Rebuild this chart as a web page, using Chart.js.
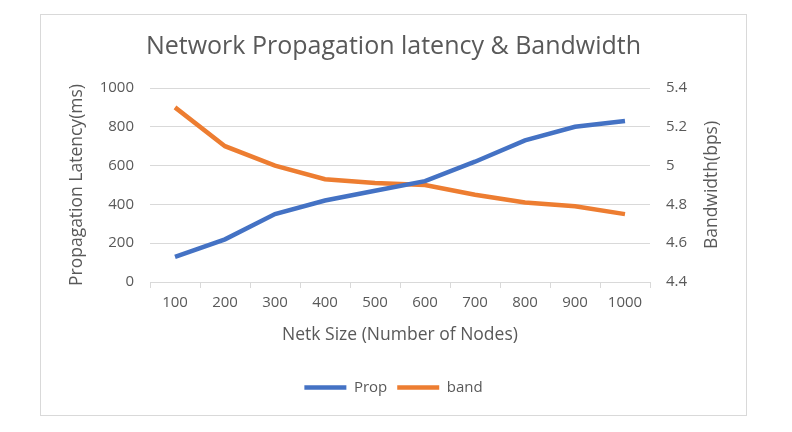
<!DOCTYPE html>
<html>
<head>
    <title>Network Propagation latency & Bandwidth</title>
    <script src="https://cdn.jsdelivr.net/npm/chart.js"></script>
    <style>
        body {
            margin: 0;
            background: white;
            font-family: "Open Sans", sans-serif;
        }

        /* Chart frame */
        .frame {
            position: absolute;
            left: 40px;
            top: 14px;
            width: 705px;
            height: 400px;
            border: 1px solid #d9d9d9;
        }
    </style>
</head>
<body>
    <div class="frame">
        <canvas id="netChart" width="705" height="400"></canvas>
    </div>

    <script>
        // Data
        const nodeCounts = ['100', '200', '300', '400', '500', '600', '700', '800', '900', '1000'];
        const propLatency = [130, 220, 350, 420, 470, 520, 620, 730, 800, 830];
        const bandwidth = [5.3, 5.1, 5.0, 4.93, 4.91, 4.9, 4.85, 4.81, 4.79, 4.75];

        const textColor = '#595959';
        const gridColor = '#d9d9d9';
        const fontFamily = '"Open Sans", sans-serif';

        // Right axis title reads bottom-to-top, so draw it ourselves
        const rightTitle = {
            id: 'rightTitle',
            afterDraw(chart) {
                const c = chart.ctx;
                const area = chart.chartArea;
                const x = chart.scales.y1.right - 34;
                const y = (area.top + area.bottom) / 2;
                c.save();
                c.translate(x, y);
                c.rotate(-Math.PI / 2);
                c.fillStyle = textColor;
                c.font = '17.5px ' + fontFamily;
                c.textAlign = 'center';
                c.textBaseline = 'middle';
                c.fillText('Bandwidth(bps)', 0, 0);
                c.restore();
            }
        };

        const config = {
            type: 'line',
            data: {
                labels: nodeCounts,
                datasets: [
                    {
                        label: 'Prop',
                        data: propLatency,
                        yAxisID: 'y',
                        borderColor: '#4472C4',
                        backgroundColor: '#4472C4',
                        borderWidth: 4.5,
                        pointRadius: 0,
                        tension: 0
                    },
                    {
                        label: 'band',
                        data: bandwidth,
                        yAxisID: 'y1',
                        borderColor: '#ED7D31',
                        backgroundColor: '#ED7D31',
                        borderWidth: 4.5,
                        pointRadius: 0,
                        tension: 0
                    }
                ]
            },
            options: {
                responsive: false,
                animation: false,
                layout: {
                    padding: { left: 0, right: 0, top: 0, bottom: 10 }
                },
                plugins: {
                    title: {
                        display: true,
                        text: 'Network Propagation latency & Bandwidth',
                        color: textColor,
                        font: { family: fontFamily, size: 25, weight: 'normal' },
                        padding: { top: 17, bottom: 26 }
                    },
                    legend: {
                        position: 'bottom',
                        labels: {
                            usePointStyle: true,
                            pointStyle: 'line',
                            pointStyleWidth: 42,
                            color: textColor,
                            font: { family: fontFamily, size: 15 },
                            padding: 10
                        }
                    },
                    tooltip: { enabled: false }
                },
                scales: {
                    x: {
                        offset: true,
                        grid: {
                            offset: true,
                            drawOnChartArea: false,
                            drawTicks: true,
                            tickLength: 6,
                            color: gridColor
                        },
                        border: { color: gridColor, width: 1 },
                        ticks: {
                            color: textColor,
                            font: { family: fontFamily, size: 15 },
                            padding: 6,
                            maxRotation: 0
                        },
                        title: {
                            display: true,
                            text: 'Netk Size (Number of Nodes)',
                            color: textColor,
                            font: { family: fontFamily, size: 17.5 },
                            padding: { top: 4, bottom: 24 }
                        },
                        afterFit: (scale) => { scale.height = 88; }
                    },
                    y: {
                        position: 'left',
                        min: 0,
                        max: 1000,
                        ticks: {
                            stepSize: 200,
                            color: textColor,
                            font: { family: fontFamily, size: 15 },
                            padding: 16,
                            callback: (v) => String(v)
                        },
                        grid: { color: gridColor, drawTicks: false },
                        border: { display: false },
                        title: {
                            display: true,
                            text: 'Propagation Latency(ms)',
                            color: textColor,
                            font: { family: fontFamily, size: 17.5 },
                            padding: { top: 26, bottom: 4 }
                        },
                        afterFit: (scale) => { scale.width = 109; }
                    },
                    y1: {
                        position: 'right',
                        min: 4.4,
                        max: 5.4,
                        ticks: {
                            stepSize: 0.2,
                            color: textColor,
                            font: { family: fontFamily, size: 15 },
                            padding: 16,
                            callback: (v) => Number(v.toFixed(1)).toString()
                        },
                        grid: { drawOnChartArea: false, drawTicks: false },
                        border: { display: false },
                        afterFit: (scale) => { scale.width = 96; }
                    }
                }
            },
            plugins: [rightTitle]
        };

        const ctx = document.getElementById('netChart').getContext('2d');
        new Chart(ctx, config);
    </script>
</body>
</html>
